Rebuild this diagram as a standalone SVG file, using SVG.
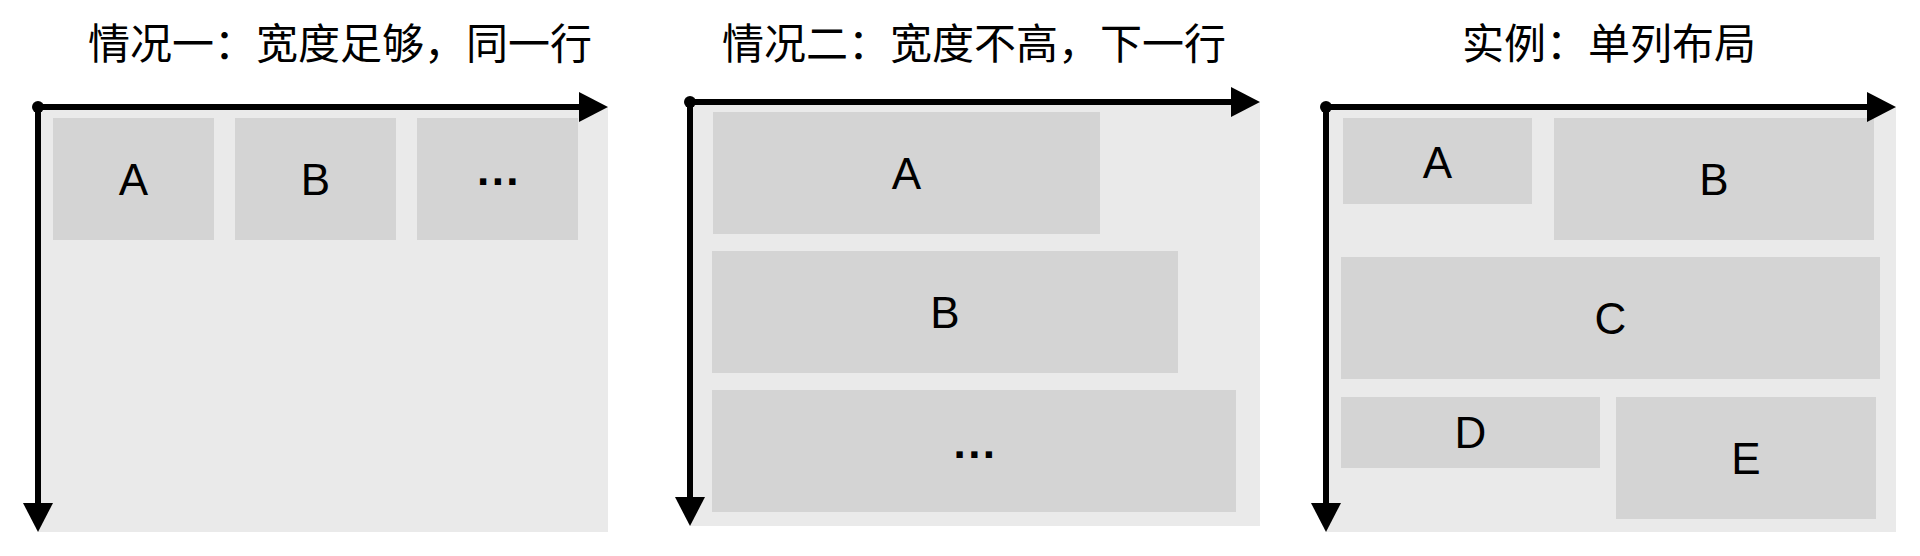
<svg xmlns="http://www.w3.org/2000/svg" width="1920" height="556" viewBox="0 0 1920 556">
<defs>
<style>
.bg{fill:#EAEAEA}
.box{fill:#D4D4D4}
.lbl{font-family:"Liberation Sans","Noto Sans",sans-serif;font-size:44px;fill:#000;text-anchor:middle}
.dots{font-family:"Liberation Sans",sans-serif;font-size:44px;font-weight:bold;fill:#000;text-anchor:middle;letter-spacing:2.5px}
.title{font-family:"Noto Sans CJK SC","Noto Sans",sans-serif;font-size:42px;fill:#000;text-anchor:middle}
.axis{stroke:#000;stroke-width:6;fill:none;marker-end:url(#arrow)}
.origin{fill:#000}
</style>
<marker id="arrow" markerUnits="userSpaceOnUse" markerWidth="34" markerHeight="34" refX="1" refY="15" orient="auto" overflow="visible">
<path d="M0,0 L29,15 L0,30 Z" fill="#000"/>
</marker>
</defs>
<rect width="1920" height="556" fill="#fff"/>

<g id="panel1">
<text class="title" x="340" y="59">情况一：宽度足够，同一行</text>
<rect class="bg" x="38" y="107" width="570" height="425"/>
<g id="p1-A"><rect class="box" x="53" y="118" width="161" height="122"/><text class="lbl" x="133.5" y="195">A</text></g>
<g id="p1-B"><rect class="box" x="235" y="118" width="161" height="122"/><text class="lbl" x="315.5" y="195">B</text></g>
<g id="p1-more"><rect class="box" x="417" y="118" width="161" height="122"/><text class="dots" x="499" y="185">...</text></g>
</g>

<g id="panel2">
<text class="title" x="974" y="59">情况二：宽度不高，下一行</text>
<rect class="bg" x="690" y="102" width="570" height="424"/>
<g id="p2-A"><rect class="box" x="713" y="112" width="387" height="122"/><text class="lbl" x="906.5" y="189">A</text></g>
<g id="p2-B"><rect class="box" x="712" y="251" width="466" height="122"/><text class="lbl" x="945" y="328">B</text></g>
<g id="p2-more"><rect class="box" x="712" y="390" width="524" height="122"/><text class="dots" x="975.5" y="458">...</text></g>
</g>

<g id="panel3">
<text class="title" x="1609" y="59">实例：单列布局</text>
<rect class="bg" x="1326" y="107" width="570" height="425"/>
<g id="p3-A"><rect class="box" x="1343" y="118" width="189" height="86"/><text class="lbl" x="1437.5" y="178">A</text></g>
<g id="p3-B"><rect class="box" x="1554" y="118" width="320" height="122"/><text class="lbl" x="1714" y="195">B</text></g>
<g id="p3-C"><rect class="box" x="1341" y="257" width="539" height="122"/><text class="lbl" x="1610.5" y="334">C</text></g>
<g id="p3-D"><rect class="box" x="1341" y="397" width="259" height="71"/><text class="lbl" x="1470.5" y="448">D</text></g>
<g id="p3-E"><rect class="box" x="1616" y="397" width="260" height="122"/><text class="lbl" x="1746" y="474">E</text></g>
</g>

<g id="connectors">
<line class="axis" x1="38" y1="107" x2="580" y2="107"/>
<line class="axis" x1="38" y1="107" x2="38" y2="504"/>
<circle class="origin" cx="38" cy="107" r="6"/>
<line class="axis" x1="690" y1="102" x2="1232" y2="102"/>
<line class="axis" x1="690" y1="102" x2="690" y2="498"/>
<circle class="origin" cx="690" cy="102" r="6"/>
<line class="axis" x1="1326" y1="107" x2="1868" y2="107"/>
<line class="axis" x1="1326" y1="107" x2="1326" y2="504"/>
<circle class="origin" cx="1326" cy="107" r="6"/>
</g>
</svg>
